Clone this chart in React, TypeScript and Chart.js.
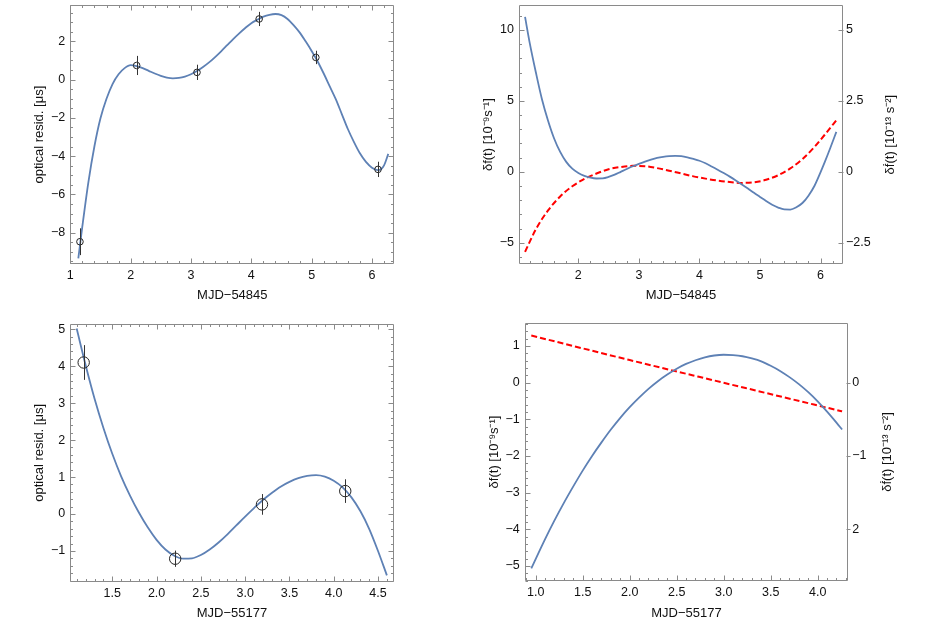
import React, { useEffect, useRef } from 'react';
import { Chart, registerables } from 'chart.js';

Chart.register(...registerables);

const FONT = "'Liberation Sans', Arial, Helvetica, sans-serif";
const BLUE = '#5E81B5';
const RED = '#FF0000';
const FRAME = '#8a8a8a';

// ---------- top-left: optical residuals (MJD-54845)
const tlPointX = [1.16, 2.1, 3.1, 4.13, 5.07, 6.1];
const tlPointY = [-8.47, 0.74, 0.38, 3.17, 1.16, -4.69];
const tlPointErr = [0.7, 0.5, 0.4, 0.37, 0.35, 0.4];
const tlFitX = [1.133, 1.2, 1.3, 1.4, 1.5, 1.6, 1.7, 1.8, 1.9, 2.0, 2.1, 2.2, 2.3, 2.4, 2.5, 2.6, 2.7, 2.8, 2.9, 3.0, 3.1, 3.2, 3.3, 3.4, 3.5, 3.6, 3.7, 3.8, 3.9, 4.0, 4.1, 4.2, 4.3, 4.4, 4.5, 4.6, 4.7, 4.8, 4.9, 5.0, 5.1, 5.2, 5.3, 5.4, 5.5, 5.6, 5.7, 5.8, 5.9, 6.0, 6.1, 6.15, 6.2, 6.27];
const tlFitY = [-9.34, -7.66, -5.35, -3.48, -2.02, -1.0, -0.23, 0.28, 0.6, 0.76, 0.71, 0.6, 0.46, 0.32, 0.2, 0.11, 0.07, 0.09, 0.16, 0.28, 0.45, 0.66, 0.9, 1.18, 1.48, 1.8, 2.12, 2.42, 2.7, 2.95, 3.13, 3.29, 3.39, 3.43, 3.37, 3.17, 2.85, 2.47, 2.0, 1.5, 0.95, 0.32, -0.35, -1.02, -1.8, -2.58, -3.25, -3.85, -4.3, -4.6, -4.73, -4.68, -4.48, -3.88];

// ---------- top-right: delta f (left) and delta f-dot (right), MJD-54845
const trFX = [1.12, 1.2, 1.3, 1.4, 1.5, 1.6, 1.7, 1.8, 1.9, 2.0, 2.1, 2.2, 2.3, 2.4, 2.5, 2.6, 2.7, 2.8, 2.9, 3.0, 3.1, 3.2, 3.3, 3.4, 3.5, 3.6, 3.7, 3.8, 3.9, 4.0, 4.1, 4.2, 4.3, 4.4, 4.5, 4.6, 4.7, 4.8, 4.9, 5.0, 5.1, 5.2, 5.3, 5.4, 5.5, 5.6, 5.7, 5.8, 5.9, 6.0, 6.07, 6.16, 6.26];
const trFY = [10.92, 9.02, 6.98, 5.1, 3.6, 2.35, 1.4, 0.7, 0.22, -0.08, -0.28, -0.41, -0.47, -0.46, -0.36, -0.2, 0.0, 0.2, 0.39, 0.56, 0.72, 0.86, 0.98, 1.06, 1.11, 1.13, 1.1, 1.02, 0.91, 0.78, 0.6, 0.38, 0.15, -0.09, -0.34, -0.61, -0.89, -1.18, -1.48, -1.77, -2.06, -2.32, -2.52, -2.65, -2.66, -2.5, -2.2, -1.68, -0.98, -0.02, 0.7, 1.68, 2.82];
const trFdotX = [1.12, 1.3, 1.5, 1.7, 1.9, 2.1, 2.3, 2.5, 2.7, 2.9, 3.1, 3.3, 3.5, 3.7, 3.9, 4.1, 4.3, 4.5, 4.7, 4.9, 5.1, 5.3, 5.5, 5.7, 5.9, 6.1, 6.26];
const trFdotY = [-2.82, -2.02, -1.36, -0.87, -0.51, -0.25, -0.06, 0.09, 0.17, 0.21, 0.2, 0.13, 0.04, -0.06, -0.16, -0.24, -0.31, -0.36, -0.39, -0.37, -0.28, -0.12, 0.12, 0.45, 0.88, 1.39, 1.82];

// ---------- bottom-left: optical residuals (MJD-55177)
const blPointX = [1.177, 2.21, 3.19, 4.13];
const blPointY = [4.1, -1.21, 0.26, 0.62];
const blPointErr = [0.47, 0.22, 0.28, 0.32];
const blFitX = [1.098, 1.2, 1.3, 1.4, 1.5, 1.6, 1.7, 1.8, 1.9, 2.0, 2.1, 2.2, 2.3, 2.4, 2.5, 2.6, 2.7, 2.8, 2.9, 3.0, 3.1, 3.2, 3.3, 3.4, 3.5, 3.6, 3.7, 3.8, 3.9, 4.0, 4.1, 4.2, 4.3, 4.4, 4.5, 4.6];
const blFitY = [5.02, 4.02, 3.12, 2.33, 1.63, 1.02, 0.5, 0.04, -0.36, -0.7, -0.96, -1.13, -1.21, -1.2, -1.11, -0.96, -0.77, -0.55, -0.31, -0.07, 0.16, 0.38, 0.57, 0.74, 0.87, 0.97, 1.03, 1.05, 1.01, 0.9, 0.72, 0.45, 0.08, -0.4, -1.0, -1.66];

// ---------- bottom-right: delta f (left) and delta f-dot (right), MJD-55177
const brFX = [0.953, 1.1, 1.2, 1.3, 1.4, 1.5, 1.6, 1.7, 1.8, 1.9, 2.0, 2.1, 2.2, 2.3, 2.4, 2.5, 2.6, 2.7, 2.8, 2.9, 3.0, 3.1, 3.2, 3.3, 3.4, 3.5, 3.6, 3.7, 3.8, 3.9, 4.0, 4.1, 4.2, 4.26];
const brFY = [-5.07, -4.27, -3.76, -3.28, -2.83, -2.4, -2.0, -1.63, -1.28, -0.96, -0.67, -0.41, -0.17, 0.04, 0.22, 0.38, 0.51, 0.61, 0.69, 0.74, 0.76, 0.75, 0.72, 0.66, 0.58, 0.46, 0.32, 0.15, -0.04, -0.26, -0.51, -0.79, -1.09, -1.28];
const brFdotX = [0.953, 2.0, 3.0, 4.26];
const brFdotY = [0.645, 0.31, 0.0, -0.39];

// ---------- axis text
const xTitleTop = 'MJD\u221254845';
const xTitleBottom = 'MJD\u221255177';
const residTitle = 'optical resid. [\u03bcs]';
const fTitle = '\u03b4f(t) [10\u207b\u2079s\u207b\u00b9]';
const fdotTitle = '\u03b4\u1e1f(t) [10\u207b\u00b9\u00b3 s\u207b\u00b2]';

const toXY = (xs: number[], ys: number[]) => xs.map((x, i) => ({ x, y: ys[i] }));
const fmt = (v: number, d?: number) =>
  (d === undefined ? String(Math.round(v * 1000) / 1000) : v.toFixed(d)).replace('-', '\u2212');

type Side = { side: 'bottom' | 'top' | 'left' | 'right'; scale: string; major: number; minor?: number; inLen: number; outLen: number; minorLen?: number };

function makeFrameTicks(sides: Side[]) {
  return {
    id: 'frameTicks',
    afterDatasetsDraw(chart: any) {
      const { ctx, chartArea: a } = chart;
      const L = Math.round(a.left) + 0.5;
      const R = Math.round(a.right) - 0.5;
      const T = Math.round(a.top) + 0.5;
      const B = Math.round(a.bottom) - 0.5;
      ctx.save();
      ctx.strokeStyle = FRAME;
      ctx.lineWidth = 1;
      ctx.beginPath();
      ctx.rect(L, T, R - L, B - T);
      ctx.stroke();
      for (const s of sides) {
        const sc = chart.scales[s.scale];
        const horiz = s.side === 'bottom' || s.side === 'top';
        const e = s.side === 'bottom' ? B : s.side === 'top' ? T : s.side === 'left' ? L : R;
        const d = s.side === 'bottom' || s.side === 'right' ? 1 : -1;
        const draw = (step: number, inLen: number, outLen: number) => {
          const k0 = Math.ceil(sc.min / step - 1e-6);
          const k1 = Math.floor(sc.max / step + 1e-6);
          ctx.beginPath();
          for (let k = k0; k <= k1; k++) {
            const p = Math.round(sc.getPixelForValue(k * step)) + 0.5;
            if (horiz) {
              ctx.moveTo(p, e - d * inLen);
              ctx.lineTo(p, e + d * outLen);
            } else {
              ctx.moveTo(e - d * inLen, p);
              ctx.lineTo(e + d * outLen, p);
            }
          }
          ctx.stroke();
        };
        if (s.minor) draw(s.minor, s.minorLen ?? 2.5, 0);
        draw(s.major, s.inLen, s.outLen);
      }
      ctx.restore();
    },
  };
}

const errorBars = {
  id: 'errorBars',
  afterDatasetsDraw(chart: any) {
    const ctx = chart.ctx;
    ctx.save();
    ctx.strokeStyle = '#333';
    ctx.lineWidth = 1;
    chart.data.datasets.forEach((ds: any, i: number) => {
      if (!ds.errors) return;
      const meta = chart.getDatasetMeta(i);
      ctx.beginPath();
      ds.data.forEach((pt: any, j: number) => {
        const e = ds.errors[j];
        const px = Math.round(meta.xScale.getPixelForValue(pt.x)) + 0.5;
        ctx.moveTo(px, meta.yScale.getPixelForValue(pt.y + e));
        ctx.lineTo(px, meta.yScale.getPixelForValue(pt.y - e));
      });
      ctx.stroke();
    });
    ctx.restore();
  },
};

function makeSideTitle(text: string, x: number) {
  return {
    id: 'sideTitle',
    afterDraw(chart: any) {
      const { ctx, chartArea: a } = chart;
      ctx.save();
      ctx.translate(x, (a.top + a.bottom) / 2);
      ctx.rotate(-Math.PI / 2);
      ctx.font = `13px ${FONT}`;
      ctx.fillStyle = '#111';
      ctx.textAlign = 'center';
      ctx.textBaseline = 'middle';
      ctx.fillText(text, 0, 0);
      ctx.restore();
    },
  };
}

type AxisOpts = {
  position: 'left' | 'right' | 'bottom';
  min: number;
  max: number;
  step: number;
  size: number;
  pad: number;
  decimals?: number;
  title?: string;
  titlePad?: number;
  labelMap?: Record<string, string>;
};

function axis(o: AxisOpts) {
  const horizontal = o.position === 'bottom';
  return {
    type: 'linear',
    position: o.position,
    min: o.min,
    max: o.max,
    grid: { display: false, drawTicks: false },
    border: { display: false },
    afterFit: (s: any) => {
      if (horizontal) s.height = o.size;
      else s.width = o.size;
      s.paddingTop = 0;
      s.paddingBottom = 0;
      s.paddingLeft = 0;
      s.paddingRight = 0;
    },
    ticks: {
      stepSize: o.step,
      includeBounds: false,
      autoSkip: false,
      maxRotation: 0,
      padding: o.pad,
      color: '#111',
      font: { family: FONT, size: 12.5 },
      callback: (v: number) => {
        const s = fmt(v, o.decimals);
        return o.labelMap && o.labelMap[s] !== undefined ? o.labelMap[s] : s;
      },
    },
    title: o.title
      ? {
          display: true,
          text: o.title,
          color: '#111',
          font: { family: FONT, size: 13 },
          padding: horizontal ? { top: 0, bottom: o.titlePad } : { top: o.titlePad, bottom: 0 },
        }
      : { display: false },
  };
}

const pointSet = (xs: number[], ys: number[], errs: number[], r: number) => ({
  data: toXY(xs, ys),
  errors: errs,
  showLine: false,
  pointStyle: 'circle',
  pointRadius: r,
  pointBorderWidth: 1,
  pointBorderColor: '#222',
  pointBackgroundColor: 'rgba(0,0,0,0)',
  borderColor: '#222',
  backgroundColor: 'rgba(0,0,0,0)',
});

const curveSet = (xs: number[], ys: number[], color: string, dashed: boolean, yAxisID = 'y') => ({
  data: toXY(xs, ys),
  yAxisID,
  showLine: true,
  pointRadius: 0,
  borderColor: color,
  backgroundColor: color,
  borderWidth: dashed ? 2 : 1.8,
  borderDash: dashed ? [6, 3] : [],
  cubicInterpolationMode: 'monotone',
  fill: false,
});

const baseOptions = (padding: any, scales: any) => ({
  responsive: false,
  animation: false,
  devicePixelRatio: 1,
  layout: { padding },
  plugins: { legend: { display: false }, tooltip: { enabled: false } },
  scales,
});

function tlConfig() {
  return {
    type: 'scatter',
    data: {
      datasets: [pointSet(tlPointX, tlPointY, tlPointErr, 3.3), curveSet(tlFitX, tlFitY, BLUE, false)],
    },
    options: baseOptions({ left: 0, top: 5, right: 68.7, bottom: 0 }, {
      x: axis({ position: 'bottom', min: 1, max: 6.37, step: 1, size: 47.7, pad: 4, title: xTitleTop, titlePad: 9.2 }),
      y: axis({ position: 'left', min: -9.65, max: 3.9, step: 2, size: 70.3, pad: 5, title: residTitle, titlePad: 31.5 }),
    }),
    plugins: [
      makeFrameTicks([
        { side: 'bottom', scale: 'x', major: 1, minor: 0.2, inLen: 5, outLen: 0 },
        { side: 'top', scale: 'x', major: 1, minor: 0.2, inLen: 5, outLen: 0 },
        { side: 'left', scale: 'y', major: 2, minor: 0.5, inLen: 5, outLen: 0 },
        { side: 'right', scale: 'y', major: 2, minor: 0.5, inLen: 5, outLen: 0 },
      ]),
      errorBars,
    ],
  };
}

function trConfig() {
  return {
    type: 'scatter',
    data: {
      datasets: [curveSet(trFX, trFY, BLUE, false, 'y'), curveSet(trFdotX, trFdotY, RED, true, 'y2')],
    },
    options: baseOptions({ left: 0, top: 5, right: 0, bottom: 0 }, {
      x: axis({ position: 'bottom', min: 1.02, max: 6.37, step: 1, size: 47.7, pad: 4, title: xTitleTop, titlePad: 9.2 }),
      y: axis({ position: 'left', min: -6.52, max: 11.76, step: 5, size: 56, pad: 5, title: fTitle, titlePad: 17.2 }),
      y2: axis({ position: 'right', min: -3.26, max: 5.88, step: 2.5, size: 83, pad: 3 }),
    }),
    plugins: [
      makeFrameTicks([
        { side: 'bottom', scale: 'x', major: 1, minor: 0.2, inLen: 5, outLen: 0 },
        { side: 'left', scale: 'y', major: 5, minor: 1, inLen: 5, outLen: 0 },
        { side: 'right', scale: 'y2', major: 2.5, inLen: 4, outLen: 1 },
      ]),
      makeSideTitle(fdotTitle, 427),
    ],
  };
}

function blConfig() {
  return {
    type: 'scatter',
    data: {
      datasets: [pointSet(blPointX, blPointY, blPointErr, 5.7), curveSet(blFitX, blFitY, BLUE, false)],
    },
    options: baseOptions({ left: 0, top: 11.7, right: 69.3, bottom: 0 }, {
      x: axis({ position: 'bottom', min: 1.026, max: 4.677, step: 0.5, size: 43, pad: 4, decimals: 1, title: xTitleBottom, titlePad: 4.2 }),
      y: axis({ position: 'left', min: -1.84, max: 5.15, step: 1, size: 70.3, pad: 5, title: residTitle, titlePad: 31.5 }),
    }),
    plugins: [
      makeFrameTicks([
        { side: 'bottom', scale: 'x', major: 0.5, minor: 0.1, inLen: 5, outLen: 0 },
        { side: 'top', scale: 'x', major: 0.5, minor: 0.1, inLen: 5, outLen: 0 },
        { side: 'left', scale: 'y', major: 1, minor: 0.2, inLen: 5, outLen: 0 },
        { side: 'right', scale: 'y', major: 1, minor: 0.2, inLen: 5, outLen: 0 },
      ]),
      errorBars,
    ],
  };
}

function brConfig() {
  return {
    type: 'scatter',
    data: {
      datasets: [curveSet(brFX, brFY, BLUE, false, 'y'), curveSet(brFdotX, brFdotY, RED, true, 'y2')],
    },
    options: baseOptions({ left: 0, top: 10.7, right: 0, bottom: 0 }, {
      x: axis({ position: 'bottom', min: 0.883, max: 4.326, step: 0.5, size: 43.7, pad: 4, decimals: 1, title: xTitleBottom, titlePad: 4.2 }),
      y: axis({ position: 'left', min: -5.42, max: 1.635, step: 1, size: 61.7, pad: 5, title: fTitle, titlePad: 23.9 }),
      y2: axis({ position: 'right', min: -2.71, max: 0.82, step: 1, size: 77.7, pad: 4, labelMap: { '\u22122': '2' } }),
    }),
    plugins: [
      makeFrameTicks([
        { side: 'bottom', scale: 'x', major: 0.5, minor: 0.1, inLen: 5, outLen: 0 },
        { side: 'left', scale: 'y', major: 1, minor: 0.2, inLen: 5, outLen: 0 },
        { side: 'right', scale: 'y2', major: 1, inLen: 1, outLen: 3 },
      ]),
      makeSideTitle(fdotTitle, 424),
    ],
  };
}

function Panel({ left, top, width, height, make }: { left: number; top: number; width: number; height: number; make: () => any }) {
  const ref = useRef<HTMLCanvasElement>(null);
  useEffect(() => {
    const chart = new Chart(ref.current as HTMLCanvasElement, make());
    return () => chart.destroy();
  }, []);
  return (
    <canvas
      ref={ref}
      width={width}
      height={height}
      style={{ position: 'absolute', left, top, width, height }}
    />
  );
}

export default function App() {
  return (
    <div style={{ position: 'fixed', left: 0, top: 0, width: 926, height: 625, background: '#fff' }}>
      <Panel left={0} top={0} width={463} height={312} make={tlConfig} />
      <Panel left={463} top={0} width={463} height={312} make={trConfig} />
      <Panel left={0} top={312} width={463} height={313} make={blConfig} />
      <Panel left={463} top={312} width={463} height={313} make={brConfig} />
    </div>
  );
}
